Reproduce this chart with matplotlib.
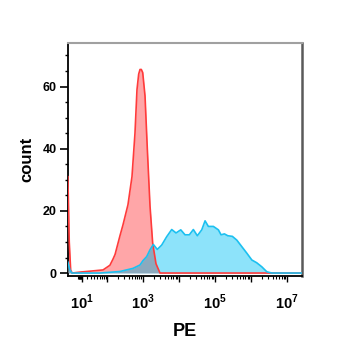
import numpy as np
import matplotlib
matplotlib.use('Agg')
import matplotlib.pyplot as plt
from matplotlib.ticker import FixedLocator, FixedFormatter

plt.rcParams['font.family'] = ['Liberation Sans', 'DejaVu Sans']
plt.rcParams['mathtext.fontset'] = 'custom'
plt.rcParams['mathtext.rm'] = 'Liberation Sans:bold'
plt.rcParams['mathtext.bf'] = 'Liberation Sans:bold'

# control (red) histogram, PE intensity vs count
red_pe = [-19, -16, -13, -10, 5, 27, 75, 119, 146, 167, 229, 278, 383, 495, 600,
          682, 760, 828, 900, 984, 1140, 1320, 1570, 1860, 2300, 2970, 5000, 1e5, 2.6e7]
red_count = [31, 10, 1, 0, 0.3, 0.6, 1, 2.5, 4.5, 6, 12, 15.5, 22, 31, 45,
             59, 64, 65.5, 65.5, 64.5, 57, 40, 21.5, 9.6, 3, 0, 0, 0, 0]

# stained sample (blue) histogram
blue_pe = [-19, -14.5, -10.4, 61, 229, 528, 828, 1000, 1270, 1570, 1940, 2500, 3310,
           4560, 6280, 8280, 11200, 14700, 19400, 25000, 32300, 42800, 52900, 65300,
           90000, 124000, 147000, 182000, 226000, 303000, 402000, 553000, 762000,
           1.05e6, 1.44e6, 1.99e6, 2.74e6, 3.77e6, 2.6e7]
blue_count = [3.5, 1, 0, 0, 0.5, 1.5, 2.6, 4, 5.3, 7.5, 9.2, 7.6, 9,
              11.7, 14, 12.9, 13.9, 12.3, 12.3, 14, 12, 13.9, 16.8, 15,
              15, 13.9, 12.3, 12.6, 12, 11.8, 10.6, 8.5, 6.4,
              4.2, 3.3, 2, 0.4, 0, 0]

decades = [1, 2, 3, 4, 5, 6, 7]
tick_labels = [r'$10^{1}$', '', r'$10^{3}$', '', r'$10^{5}$', '', r'$10^{7}$']

# logicle-like axis (asinh)
def fwd(x):
    return np.arcsinh(np.asarray(x) / 30.0) / np.log(10)

def inv(y):
    return 30.0 * np.sinh(np.asarray(y) * np.log(10))

fig = plt.figure(figsize=(3.5, 3.5), dpi=100)
ax = fig.add_axes([0.194, 0.211, 0.669, 0.666])
ax.set_xscale('function', functions=(fwd, inv))

red_fill = ax.fill_between(red_pe, red_count, color='#ffa6a8', lw=0, zorder=1)
ax.fill_between(blue_pe, blue_count, color='#8de3fa', lw=0, zorder=2)
overlap = ax.fill_between(blue_pe, blue_count, color='#8ca9bd', lw=0, zorder=3)
overlap.set_clip_path(red_fill.get_paths()[0], ax.transData)
ax.plot(red_pe, red_count, color='#ff3b3b', lw=1.2, zorder=4)
ax.plot(blue_pe, blue_count, color='#1cc0f0', lw=1.2, zorder=5)

ax.set_xlim(-19, 2.6e7)
ax.set_ylim(-1, 74)

major = [10.0 ** d for d in decades]
minor = [k * 10.0 ** d for d in range(0, 7) for k in range(2, 10)]
ax.xaxis.set_major_locator(FixedLocator(major))
ax.xaxis.set_major_formatter(FixedFormatter(tick_labels))
ax.xaxis.set_minor_locator(FixedLocator(minor))
ax.set_yticks([0, 20, 40, 60])
ax.set_yticks(np.arange(0, 75, 5), minor=True)

ax.tick_params(axis='x', which='major', length=4, width=1, pad=8, labelsize=10.5)
ax.tick_params(axis='x', which='minor', length=2.5, width=0.8)
ax.tick_params(axis='y', which='major', length=6, width=1.2, pad=2, labelsize=9)
ax.tick_params(axis='y', which='minor', length=2.5, width=1)
for lab in ax.get_yticklabels():
    lab.set_fontweight('bold')

ax.spines['left'].set_linewidth(1.3)
ax.spines['bottom'].set_linewidth(1.3)
ax.spines['top'].set_color('#a0a0a0')
ax.spines['top'].set_linewidth(1.5)
ax.spines['right'].set_color('#5a5a5a')
ax.spines['right'].set_linewidth(1.8)

ax.set_xlabel('PE', fontsize=13, fontweight='bold', labelpad=8)
ax.set_ylabel('count', fontsize=12, fontweight='bold', labelpad=6)

fig.savefig('out.png', dpi=100)
